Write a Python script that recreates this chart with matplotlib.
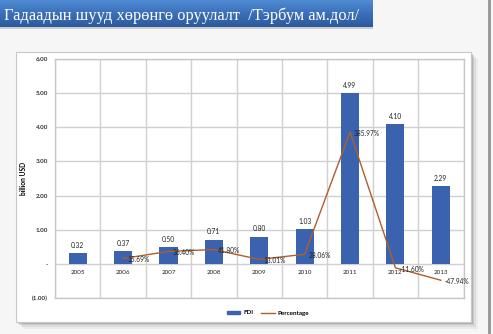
import matplotlib
matplotlib.use("Agg")
import matplotlib.pyplot as plt
import numpy as np
from matplotlib.patches import Rectangle
from matplotlib.lines import Line2D
from matplotlib.colors import LinearSegmentedColormap

years = ['2005', '2006', '2007', '2008', '2009', '2010', '2011', '2012', '2013']
fdi = [0.32, 0.37, 0.50, 0.71, 0.80, 1.03, 4.99, 4.10, 2.29]
# growth rate, starts in 2006
pct = [15.69, 36.40, 41.80, 13.01, 28.06, 385.97, -11.60, -47.94]
yticks = [-1, 0, 1, 2, 3, 4, 5, 6]
ytick_labels = ['(1.00)', '-', '1.00', '2.00', '3.00', '4.00', '5.00', '6.00']
title = 'Гадаадын шууд хөрөнгө оруулалт  /Тэрбум ам.дол/'

W, H = 493, 334
bar_col = '#3a62ae'
line_col = '#ad5f2c'
font = ['Lato', 'DejaVu Sans']

fig = plt.figure(figsize=(W / 100, H / 100), dpi=100)
fig.patch.set_facecolor('#f6f6f6')

def px_rect(x0, y0, x1, y1, **kw):
    # pixel box (top-down) -> figure fraction
    r = Rectangle((x0 / W, 1 - y1 / H), (x1 - x0) / W, (y1 - y0) / H,
                  transform=fig.transFigure, **kw)
    fig.add_artist(r)
    return r

# chart box + soft shadow
for d, a in [(7, 0.08), (5, 0.12), (3, 0.18), (1.5, 0.25)]:
    px_rect(16 + d, 52 + d, 471 + d, 322 + d, facecolor='#707070', alpha=a, edgecolor='none', zorder=0)
px_rect(16, 52, 471, 322, facecolor='white', edgecolor='#c8c8c8', lw=0.8, zorder=0.5)
# right gray border
px_rect(488, 0, 491, 334, facecolor='#9a9a9a', edgecolor='none', zorder=0.5)
px_rect(0, 27, 373, 29, facecolor='#b0b0b0', edgecolor='none', alpha=0.6, zorder=0.6)

# title banner with gradient
bx = fig.add_axes([0, 1 - 27 / H, 373 / W, 27 / H], zorder=3)
grad = np.linspace(0, 1, 50).reshape(-1, 1)
cm = LinearSegmentedColormap.from_list('b', ['#4f8bd3', '#3a6fb8', '#2d5a9c'])
bx.imshow(grad, aspect='auto', cmap=cm, extent=[0, 1, 0, 1])
bx.set_axis_off()
bx.text(0.012, 0.42, title, color='white', fontsize=11.8, family='Liberation Serif',
        va='center', ha='left', transform=bx.transAxes)

ax = fig.add_axes([55 / W, 1 - 298 / H, (463.5 - 55) / W, (298 - 59) / H], zorder=2)
ax.set_facecolor('white')
x = np.arange(len(years))
ax.bar(x, fdi, width=0.4, color=bar_col, zorder=2, label='FDI')
xp = x[1:]
yp = np.array(pct) / 100
ax.plot(xp, yp, color=line_col, lw=1.0, zorder=3, label='Percentage')

for xi, v in zip(x, fdi):
    ax.annotate('%.2f' % v, (xi, v), xytext=(0, 3), textcoords='offset points',
                ha='center', va='bottom', fontsize=4.8, family=font, color='#222222')
for xi, v, p in zip(xp, yp, pct):
    ax.annotate('%.2f%%' % p, (xi, v), xytext=(3, -1), textcoords='offset points',
                ha='left', va='center', fontsize=4.8, family=font, color='#222222', zorder=4)
for xi, yr in zip(x, years):
    ax.annotate(yr, (xi, 0), xytext=(0, -6.5), textcoords='offset points',
                ha='center', va='center', fontsize=4.5, family=font, color='#222222')

ax.set_xlim(-0.5, len(years) - 0.5)
ax.set_ylim(-1, 6)
ax.set_xticks([])
ax.set_xticks(np.arange(-0.5, len(years)), minor=True)
ax.set_yticks(yticks)
ax.set_yticklabels(ytick_labels, fontsize=4.5, family=font, fontweight='bold', color='#333333')
ax.tick_params(axis='both', which='both', length=0, pad=5)
ax.grid(True, axis='y', which='major', color='#d0d0d0', lw=1.0, zorder=0)
ax.grid(True, axis='x', which='minor', color='#d0d0d0', lw=1.0, zorder=0)
for s in ax.spines.values():
    s.set_color('#c8c8c8')
    s.set_linewidth(1.0)
ax.set_ylabel('billion USD', fontsize=4.8, family=font, fontweight='bold', labelpad=4)

handles = [Rectangle((0, 0), 1, 1, color=bar_col), Line2D([0], [0], color=line_col, lw=1.0)]
leg = fig.legend(handles, ['FDI', 'Percentage'], loc='center', bbox_to_anchor=(268 / W, 1 - 313 / H),
                 ncol=2, frameon=False, handlelength=2.2, handleheight=0.5,
                 columnspacing=1.2, handletextpad=0.5,
                 prop={'family': font, 'size': 4.5, 'weight': 'bold'})
leg.set_zorder(3)

fig.savefig('out.png', dpi=100, facecolor=fig.get_facecolor())
